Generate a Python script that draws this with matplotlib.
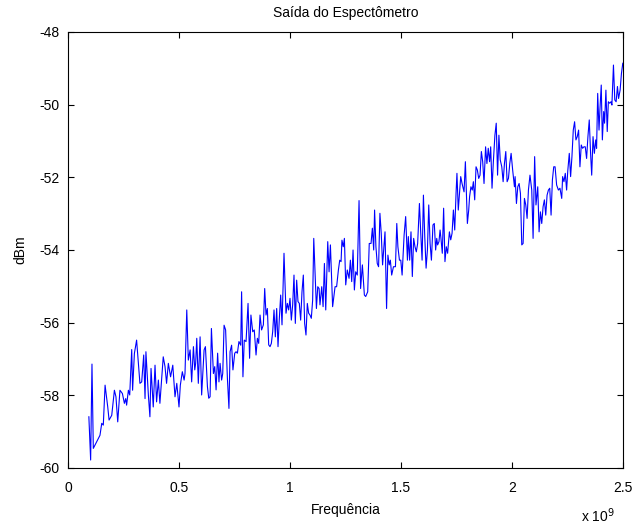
import matplotlib
matplotlib.use("Agg")
import matplotlib.pyplot as plt

# Frequency in units of 1e9 Hz, power in dBm
freq = [
 0.094,0.102,0.108,0.114,0.129,0.144,0.152,0.159,0.167,0.179,0.185,0.197,0.209,0.216,0.224,0.234,0.245,0.254,0.260,0.264,
 0.272,0.278,0.287,0.291,0.299,0.309,0.324,0.332,0.341,0.347,0.351,0.362,0.369,0.374,0.384,0.392,0.399,0.407,0.414,0.429,
 0.437,0.444,0.452,0.462,0.472,0.482,0.490,0.500,0.506,0.515,0.523,
 0.527,0.535,0.542,0.550,0.557,0.565,0.571,0.575,0.580,0.587,0.595,0.602,0.613,0.619,0.628,0.634,0.640,0.646,0.655,0.661,
 0.667,0.674,0.680,0.685,0.692,0.697,0.703,0.710,0.718,0.725,0.730,0.737,0.743,0.751,0.757,0.763,0.770,0.778,0.782,0.788,
 0.794,0.802,0.811,0.818,0.824,0.832,0.839,0.847,0.853,0.859,
 0.865,0.872,0.880,0.886,0.892,0.898,0.904,0.910,0.916,0.922,0.928,0.934,0.940,0.946,0.952,0.958,0.964,0.973,0.982,0.988,
 0.994,1.000,1.006,1.012,1.018,1.024,1.030,1.036,1.042,1.048,1.054,1.060,1.066,1.072,1.078,1.084,1.090,1.096,1.102,
 1.107,1.119,1.125,
 1.131,1.135,1.143,1.149,1.155,1.161,1.170,1.176,1.182,1.192,1.203,1.210,1.218,1.224,1.230,1.234,1.240,1.245,1.251,1.258,
 1.266,1.272,1.278,1.284,1.290,1.296,1.303,1.311,1.318,1.326,1.335,1.341,1.350,1.357,1.365,1.371,1.377,1.381,
 1.387,1.393,1.399,1.405,1.411,1.417,1.428,1.435,1.441,1.447,1.452,1.458,1.466,1.475,1.481,1.486,1.493,1.499,1.505,1.514,
 1.521,1.529,1.533,1.539,1.545,1.551,1.557,1.563,1.569,1.575,1.583,1.589,1.595,1.601,1.607,1.613,1.619,1.625,1.631,1.637,
 1.644,1.650,1.656,1.661,1.665,1.671,1.676,1.680,1.686,1.692,1.698,1.704,1.710,1.718,1.724,1.730,1.736,1.742,1.748,1.752,
 1.758,1.769,1.775,1.784,1.790,1.799,1.805,1.809,
 1.815,1.821,1.826,1.832,1.838,1.844,1.850,1.856,1.862,1.868,1.874,1.881,1.887,1.893,1.899,1.904,1.910,1.916,1.923,1.929,
 1.935,1.941,1.947,1.954,1.960,1.966,1.972,1.978,1.984,1.990,1.996,2.003,2.011,2.014,2.020,2.026,2.032,2.038,2.044,2.050,
 2.056,2.062,2.068,2.074,2.081,2.089,2.095,2.102,2.108,2.116,2.122,2.128,2.134,2.140,2.146,2.152,2.158,2.164,2.170,2.176,
 2.182,2.188,2.194,
 2.201,2.209,2.216,2.224,2.228,2.234,2.240,2.246,2.251,2.258,2.264,2.270,2.276,2.282,2.288,2.294,2.300,2.306,2.312,2.318,
 2.324,2.330,2.336,2.342,2.348,2.354,2.359,2.365,2.371,2.377,2.381,2.386,2.392,2.396,2.402,2.407,2.413,2.417,2.423,2.429,
 2.434,2.440,2.446,2.450,2.457,2.463,2.469,2.475,2.480,2.487,2.493,2.499,
]
power_dbm = [
 -58.59,-59.78,-57.14,-59.46,-59.28,-59.10,-58.77,-58.82,-57.72,-58.32,-58.68,-58.55,-57.86,-58.04,-58.73,-57.86,-57.95,-58.22,-58.09,-58.27,
 -57.86,-57.99,-56.74,-57.86,-56.85,-56.48,-57.67,-57.63,-56.89,-58.09,-56.80,-57.99,-58.59,-57.26,-58.32,-57.17,-58.18,-57.58,-58.22,-56.94,
 -57.21,-57.67,-57.12,-57.49,-57.17,-58.04,-57.67,-58.32,-57.72,-57.35,-57.58,
 -57.40,-55.65,-57.03,-56.75,-57.63,-56.66,-57.30,-57.12,-56.43,-57.67,-56.39,-57.99,-56.75,-56.66,-57.76,-58.08,-58.04,-56.16,-57.40,-57.21,
 -57.85,-56.84,-57.63,-57.12,-57.58,-57.40,-56.07,-56.20,-57.53,-58.36,-56.80,-56.62,-57.30,-56.84,-56.80,-56.84,-56.52,-56.62,-55.15,-57.49,
 -56.48,-56.52,-55.47,-56.98,-55.79,-56.25,-56.20,-56.89,-56.43,-56.57,
 -55.79,-56.20,-56.06,-55.06,-55.79,-55.61,-56.61,-56.66,-56.57,-56.25,-55.65,-56.39,-55.61,-56.66,-55.88,-55.24,-56.06,-54.09,-55.74,-55.47,
 -55.65,-55.33,-55.93,-55.51,-54.69,-56.02,-54.83,-55.42,-55.47,-55.93,-55.15,-54.69,-56.02,-56.34,-55.47,-55.74,-55.79,-55.88,-55.38,
 -53.68,-55.61,-55.01,
 -55.06,-55.51,-55.01,-55.56,-54.37,-55.65,-53.77,-54.60,-53.86,-55.56,-55.01,-55.01,-54.55,-54.28,-54.32,-53.73,-53.91,-53.68,-54.96,-54.55,
 -54.78,-54.28,-54.87,-54.00,-55.10,-54.60,-54.69,-52.64,-55.06,-54.41,-55.24,-55.28,-55.15,-53.82,-53.82,-53.40,-54.00,-52.90,
 -53.91,-54.37,-54.46,-52.99,-53.54,-54.41,-53.50,-55.61,-54.14,-54.41,-54.28,-54.69,-54.46,-54.46,-53.27,-53.91,-54.28,-54.28,-54.69,-53.59,
 -53.08,-54.28,-53.63,-54.28,-53.50,-54.73,-53.68,-53.91,-54.05,-53.82,-52.72,-53.54,-54.28,-52.49,-53.63,-54.50,-54.00,-52.76,-53.82,-54.28,
 -53.31,-53.27,-54.00,-53.68,-53.86,-53.77,-53.45,-53.68,-54.09,-52.85,-54.32,-53.91,-54.09,-53.50,-53.72,-53.54,-52.90,-53.45,-52.44,-51.89,
 -52.90,-51.98,-52.17,-52.40,-51.57,-53.27,-52.90,-52.53,
 -52.26,-52.35,-52.12,-52.62,-51.71,-51.80,-52.03,-51.94,-51.29,-51.57,-52.17,-51.16,-51.62,-51.20,-51.57,-51.16,-52.30,-51.57,-50.84,-50.51,
 -51.94,-50.84,-51.52,-51.71,-52.12,-51.62,-51.29,-52.12,-52.03,-51.62,-51.34,-51.80,-52.26,-51.98,-52.72,-52.26,-52.17,-52.44,-53.86,-53.82,
 -52.58,-52.76,-53.13,-52.35,-51.94,-52.35,-53.68,-51.43,-52.76,-52.26,-53.50,-52.95,-53.27,-52.81,-52.62,-53.04,-52.49,-52.35,-52.30,-53.04,
 -52.07,-51.71,-51.71,
 -52.21,-52.35,-52.30,-52.58,-51.98,-52.12,-51.89,-52.35,-51.84,-51.34,-51.98,-51.43,-50.70,-50.47,-50.97,-50.88,-50.70,-51.71,-51.11,-51.20,
 -51.16,-51.16,-51.48,-50.88,-50.42,-51.34,-51.94,-50.88,-51.34,-50.97,-51.20,-49.69,-50.70,-50.15,-49.46,-50.97,-50.19,-50.51,-49.60,-50.74,
 -49.92,-49.96,-49.92,-50.01,-48.91,-49.87,-49.92,-49.50,-49.83,-49.60,-49.14,-48.86,
]

xticks = [0, 0.5, 1, 1.5, 2, 2.5]
xtick_labels = ["0", "0.5", "1", "1.5", "2", "2.5"]
yticks = [-60, -58, -56, -54, -52, -50, -48]

plt.rcParams['font.family'] = ['Liberation Sans', 'DejaVu Sans']
plt.rcParams['axes.unicode_minus'] = False

fig = plt.figure(figsize=(6.36, 5.26), dpi=100)
ax = fig.add_axes([68/636, 1-468/526, (623-68)/636, (468-32)/526])
ax.plot(freq, power_dbm, color=(0, 0, 1), lw=0.8)
ax.set_xlim(0, 2.5)
ax.set_ylim(-60, -48)
ax.set_xticks(xticks)
ax.set_xticklabels(xtick_labels)
ax.set_yticks(yticks)
ax.tick_params(direction='in', length=4, width=0.8, top=True, right=True,
               labelsize=10)
ax.tick_params(axis='x', pad=9)
ax.tick_params(axis='y', pad=6)
for s in ax.spines.values():
    s.set_linewidth(0.8)
ax.set_title("Saída do Espectômetro", fontsize=10, pad=11)
ax.set_xlabel("Frequência", fontsize=10, labelpad=6)
ax.set_ylabel("dBm", fontsize=10, labelpad=9)
fig.text(598/636, 1-516/526, "x 10$^{9}$", fontsize=10, ha='center', va='center')

fig.savefig("out.png", dpi=100)
